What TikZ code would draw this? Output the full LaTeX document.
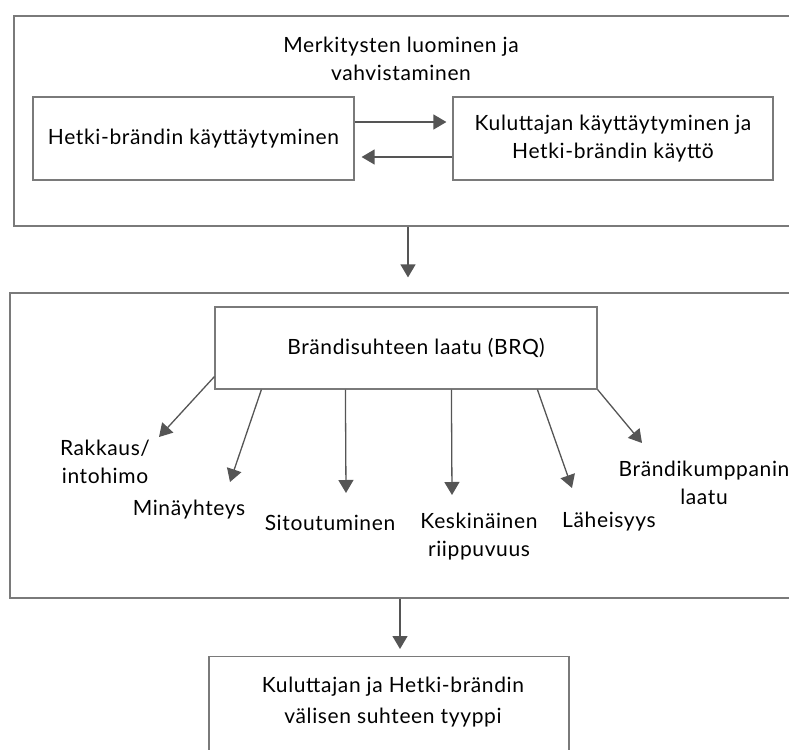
\documentclass[tikz,border=0pt]{standalone}
\usepackage{fontspec}
\setmainfont{Lato}[LetterSpace=3]
\usetikzlibrary{arrows.meta}
\definecolor{boxgray}{HTML}{7A7A7A}
\definecolor{arrowgray}{HTML}{555555}
\newcommand{\diafont}{\fontsize{21pt}{28pt}\selectfont}
\tikzset{
  box/.style={draw=boxgray, line width=1.2pt, inner sep=0pt},
  lbl/.style={font=\diafont, align=center, inner sep=0pt},
  arr/.style={draw=arrowgray, line width=1.3pt, -{Triangle[length=13pt,width=15pt]}},
}
\begin{document}
\begin{tikzpicture}[x=1pt,y=-1pt]
  \useasboundingbox (0,0) rectangle (789,749);

  % kehykset
  \node[box, minimum width=790pt, minimum height=210pt] (frameA) at (409,121) {};
  \node[box, minimum width=794pt, minimum height=305pt] (frameB) at (407,445.5) {};

  % ylempi kehys
  \node[lbl] (title) at (401,59) {Merkitysten luominen ja\\vahvistaminen};
  \node[box, lbl, minimum width=321pt, minimum height=83pt] (hetki) at (193.5,138.5) {Hetki-brändin käyttäytyminen};
  \node[box, lbl, minimum width=320pt, minimum height=83pt] (kulu) at (613,138.5) {Kuluttajan käyttäytyminen ja\\Hetki-brändin käyttö};
  \draw[arr] ([yshift=16.5pt]hetki.east) -- ([xshift=-6pt,yshift=16.5pt]kulu.west);
  \draw[arr] ([yshift=-18.5pt]kulu.west) -- ([xshift=7pt,yshift=-18.5pt]hetki.east);

  \draw[arr] ([xshift=-1pt]frameA.south) -- ([xshift=1pt,yshift=15pt]frameB.north);

  % BRQ ja sen osat
  \node[box, lbl, minimum width=382pt, minimum height=82pt] (brq) at (406,348) {\hspace*{20pt}Brändisuhteen laatu (BRQ)};

  \node[lbl] (rak) at (105,462) {Rakkaus/\\intohimo};
  \node[lbl] (min) at (189,509.5) {Minäyhteys};
  \node[lbl] (sit) at (330,522.5) {Sitoutuminen};
  \node[lbl] (kes) at (479,536.5) {Keskinäinen\\riippuvuus};
  \node[lbl] (lah) at (609,521.5) {Läheisyys};
  \node[lbl] (bra) at (704,483) {Brändikumppanin\\laatu};

  \coordinate (tRak) at (159,437);
  \coordinate (tMin) at (230,482);
  \coordinate (tSit) at (346,493);
  \coordinate (tKes) at (452,495);
  \coordinate (tLah) at (572,488);
  \coordinate (tBra) at (642,443);

  \draw[arr] ([yshift=13pt]brq.south west) -- (tRak);
  \draw[arr] ([xshift=47pt]brq.south west) -- (tMin);
  \draw[arr] ([xshift=131pt]brq.south west) -- (tSit);
  \draw[arr] ([xshift=237pt]brq.south west) -- (tKes);
  \draw[arr] ([xshift=323pt]brq.south west) -- (tLah);
  \draw[arr] (brq.south east) -- (tBra);

  % suhteen tyyppi
  \node[box, minimum width=360pt, minimum height=130pt, anchor=north] (result) at (389,656) {};
  \node[lbl] (restext) at (393,702) {Kuluttajan ja Hetki-brändin\\[3pt]välisen suhteen tyyppi};
  \draw[arr] ([xshift=-7pt]frameB.south) -- ([xshift=11pt,yshift=7pt]result.north);
\end{tikzpicture}
\end{document}
